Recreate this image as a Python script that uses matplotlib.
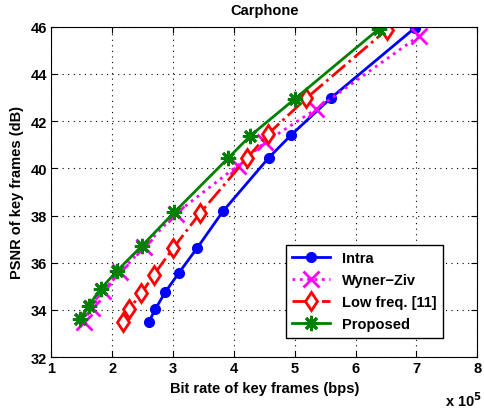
import matplotlib
matplotlib.use('Agg')
import matplotlib.pyplot as plt

plt.rcParams['font.family'] = ['Liberation Sans', 'DejaVu Sans']
plt.rcParams['font.weight'] = 'bold'

# bit rate in units of 1e5 bps, PSNR in dB
intra_x = [2.60, 2.71, 2.87, 3.09, 3.40, 3.82, 4.57, 4.94, 5.59, 6.97]
intra_y = [33.48, 34.04, 34.75, 35.55, 36.64, 38.18, 40.44, 41.41, 42.97, 45.94]

wz_x = [1.53, 1.66, 1.85, 2.12, 2.52, 3.04, 4.06, 4.51, 5.35, 7.05]
wz_y = [33.50, 34.10, 34.80, 35.60, 36.65, 38.08, 40.11, 41.10, 42.51, 45.62]

lf_x = [2.18, 2.28, 2.48, 2.68, 3.00, 3.44, 4.21, 4.56, 5.19, 6.51]
lf_y = [33.48, 34.04, 34.70, 35.48, 36.61, 38.09, 40.42, 41.45, 42.97, 45.87]

prop_x = [1.47, 1.61, 1.81, 2.08, 2.49, 3.02, 3.90, 4.27, 5.00, 6.38]
prop_y = [33.61, 34.18, 34.89, 35.66, 36.72, 38.14, 40.42, 41.38, 42.94, 45.90]

FS = 10.5
fig = plt.figure(figsize=(4.85, 4.14), dpi=100)
ax = fig.add_axes([0.106, 0.135, 0.878, 0.798])

ax.plot(intra_x, intra_y, '-', color='blue', lw=2, marker='o', ms=7,
        mfc='blue', mec='blue', label='Intra')
ax.plot(wz_x, wz_y, ':', color='magenta', lw=2, marker='x', ms=11, mew=2,
        label='Wyner\u2212Ziv')
ax.plot(lf_x, lf_y, '-.', color='red', lw=2, marker='d', ms=9.5, mew=2,
        mfc='white', mec='red', label='Low freq. [11]')
ax.plot(prop_x, prop_y, '-', color=(0, 0.5, 0), lw=2, marker=(8, 2, 0), ms=11,
        mew=2, label='Proposed')

ax.set_xlim(1, 8)
ax.set_ylim(32, 46)
ax.set_xticks(range(1, 9))
ax.set_yticks(range(32, 47, 2))
ax.grid(True, linestyle=(0, (1, 4)), color='black', lw=0.8)
ax.tick_params(direction='in', top=True, right=True, labelsize=FS, length=4, pad=3)
for lbl in ax.get_xticklabels() + ax.get_yticklabels():
    lbl.set_fontweight('bold')

ax.set_title('Carphone', fontsize=FS, fontweight='bold', pad=9)
ax.set_xlabel('Bit rate of key frames (bps)', fontsize=FS, fontweight='bold', labelpad=4)
ax.set_ylabel('PSNR of key frames (dB)', fontsize=FS, fontweight='bold', labelpad=5)
fig.text(0.918, 0.018, 'x 10$^{\\mathbf{5}}$', fontsize=FS, fontweight='bold')

leg = ax.legend(loc='lower right', bbox_to_anchor=(0.92, 0.058), fontsize=FS,
                frameon=True, fancybox=False, edgecolor='black', framealpha=1,
                handlelength=2.6, borderpad=0.45, labelspacing=0.55,
                borderaxespad=0)
leg.get_frame().set_linewidth(1)

fig.savefig('out.png', dpi=100, facecolor='white')
